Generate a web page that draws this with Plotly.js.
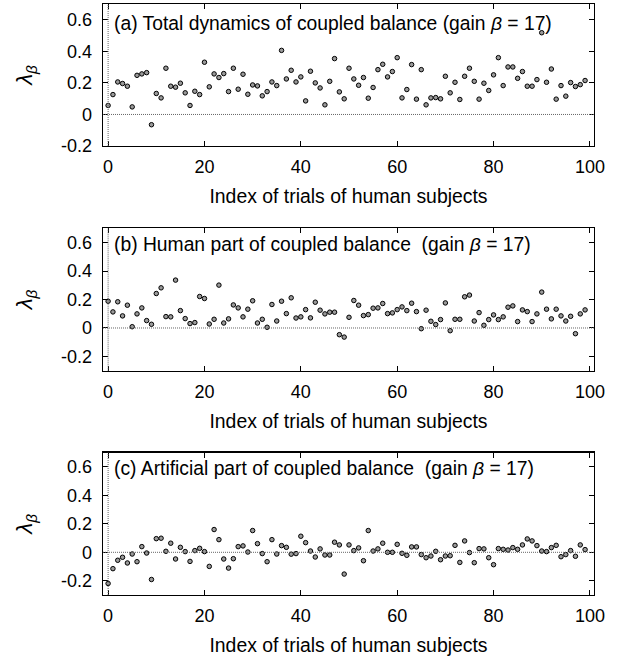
<!DOCTYPE html>
<html><head><meta charset="utf-8">
<script src="https://cdn.plot.ly/plotly-3.0.1.min.js"></script>
<style>html,body{margin:0;padding:0;background:#fff}</style>
</head><body><div id="chart" style="width:620px;height:662px"></div>
<script>
// trial index 0..99
const trialIndex = [0,1,2,3,4,5,6,7,8,9,10,11,12,13,14,15,16,17,18,19,20,21,22,23,24,25,26,27,28,29,30,31,32,33,34,35,36,37,38,39,40,41,42,43,44,45,46,47,48,49,50,51,52,53,54,55,56,57,58,59,60,61,62,63,64,65,66,67,68,69,70,71,72,73,74,75,76,77,78,79,80,81,82,83,84,85,86,87,88,89,90,91,92,93,94,95,96,97,98,99];

// (a) total dynamics
const totalDynamics = [0.057,0.126,0.206,0.196,0.179,0.048,0.248,0.257,0.265,-0.065,
0.133,0.105,0.293,0.179,0.173,0.198,0.137,0.057,0.147,0.126,
0.331,0.175,0.257,0.234,0.259,0.145,0.293,0.160,0.255,0.128,
0.187,0.181,0.118,0.145,0.206,0.183,0.406,0.225,0.280,0.206,
0.238,0.086,0.274,0.200,0.168,0.061,0.210,0.354,0.143,0.099,
0.293,0.225,0.185,0.234,0.103,0.171,0.284,0.318,0.238,0.272,
0.360,0.105,0.158,0.316,0.097,0.284,0.061,0.105,0.107,0.099,
0.242,0.137,0.204,0.095,0.242,0.293,0.210,0.097,0.198,0.152,
0.251,0.360,0.183,0.301,0.301,0.229,0.272,0.179,0.179,0.221,
0.518,0.204,0.288,0.097,0.183,0.116,0.202,0.177,0.189,0.215];

// (b) human part
const humanPart = [0.188,0.113,0.184,0.085,0.160,0.009,0.099,0.141,0.052,0.026,
0.242,0.282,0.080,0.078,0.336,0.122,0.066,0.031,0.038,0.221,
0.207,0.028,0.061,0.301,0.035,0.064,0.162,0.141,0.078,0.132,
0.191,0.035,0.061,0.005,0.165,0.049,0.188,0.101,0.212,0.070,
0.078,0.129,0.071,0.181,0.125,0.099,0.111,0.111,-0.047,-0.064,
0.075,0.193,0.160,0.087,0.094,0.139,0.141,0.172,0.101,0.106,
0.129,0.148,0.122,0.174,0.115,-0.005,0.125,0.047,0.024,0.059,
0.176,-0.019,0.061,0.061,0.219,0.231,0.049,0.108,0.019,0.059,
0.092,0.059,0.078,0.146,0.155,0.045,0.127,0.115,0.045,0.099,
0.252,0.132,0.064,0.132,0.085,0.049,0.082,-0.040,0.099,0.127];

// (c) artificial part
const artificialPart = [-0.219,-0.115,-0.056,-0.035,-0.075,-0.012,-0.066,0.040,-0.005,-0.191,
0.096,0.099,0.007,0.064,-0.047,0.035,0.005,-0.064,0.012,0.028,
0.005,-0.099,0.160,0.089,-0.047,-0.111,-0.045,0.040,0.045,0.002,
0.153,0.061,-0.009,-0.066,0.089,-0.012,0.047,0.035,-0.013,-0.009,
0.113,0.068,0.009,-0.033,0.024,-0.019,-0.019,0.071,0.052,-0.153,
0.052,0.012,0.031,-0.059,0.153,0.009,0.024,0.064,0.000,0.000,
0.056,-0.007,-0.021,0.038,0.038,-0.016,-0.038,-0.026,0.007,-0.052,
-0.026,-0.024,0.049,-0.071,0.080,-0.002,-0.073,0.026,0.024,-0.038,
-0.087,0.026,0.021,0.016,0.033,0.021,0.052,0.094,0.080,0.047,
0.009,0.005,0.033,0.049,-0.031,-0.016,0.012,-0.028,0.052,0.019];

const panelTitles = [
  '(a) Total dynamics of coupled balance (gain <i>β</i> = 17)',
  '(b) Human part of coupled balance \u00A0(gain <i>β</i> = 17)',
  '(c) Artificial part of coupled balance \u00A0(gain <i>β</i> = 17)'
];
const xTickVals = [0,20,40,60,80,100];
const yTickVals = [-0.2,0,0.2,0.4,0.6];
const xTitle = 'Index of trials of human subjects';
const yTitle = '<i>λ</i><sub><i>β</i></sub>';

const series = [totalDynamics, humanPart, artificialPart];
const yRanges = [[-0.2,0.7],[-0.3,0.7],[-0.3,0.7]];
const domains = [[0.7597,1],[0.3795,0.6205],[0,0.2408]];
const FONT = 'Liberation Sans, Arial, Helvetica, sans-serif';

const data = series.map((vals,k)=>({
  x: trialIndex, y: vals, type:'scatter', mode:'markers',
  xaxis: k===0?'x':'x'+(k+1), yaxis: k===0?'y':'y'+(k+1),
  marker:{symbol:'circle', size:4.5, color:'#9a9a9a', line:{color:'#000', width:1}},
  hoverinfo:'skip', showlegend:false, cliponaxis:false
}));

const layout = {
  width:620, height:662,
  margin:{l:103, r:26, t:4, b:67},
  paper_bgcolor:'#fff', plot_bgcolor:'#fff',
  font:{family:FONT, size:18, color:'#000'},
  showlegend:false,
  shapes:[], annotations:[]
};

for (let k=0;k<3;k++){
  const xs = k===0?'':String(k+1);
  const xa = 'xaxis'+xs, ya = 'yaxis'+xs;
  layout[xa] = {
    domain:[0,1], anchor:'y'+xs, range:[-1.06,100.85],
    tickvals:xTickVals, ticktext:xTickVals.map(String),
    ticks:'inside', ticklen:5, tickwidth:1, tickcolor:'#000',
    showline:true, linecolor:'#000', linewidth:1.3, mirror:'ticks',
    showgrid:false, zeroline:false,
    tickfont:{family:FONT, size:18}, ticklabelstandoff:4,
    title:{text:xTitle, font:{family:FONT, size:19.4}, standoff:13},
    automargin:false
  };
  layout[ya] = {
    domain:domains[k], anchor:'x'+xs, range:yRanges[k],
    tickvals:yTickVals, ticktext:yTickVals.map(v=>v===0?'0':v.toFixed(1)),
    ticks:'inside', ticklen:5, tickwidth:1, tickcolor:'#000',
    showline:true, linecolor:'#000', linewidth:1.3, mirror:'ticks',
    showgrid:false, zeroline:false,
    tickfont:{family:FONT, size:18}, ticklabelstandoff:6,
    title:{text:yTitle, font:{family:FONT, size:22}, standoff:22},
    automargin:false
  };
  // dotted zero lines
  layout.shapes.push({type:'line', xref:'x'+xs, yref:'y'+xs+' domain', x0:0, x1:0, y0:0, y1:1,
    line:{color:'#666', width:1, dash:'1px,1px'}});
  layout.shapes.push({type:'line', xref:'x'+xs+' domain', yref:'y'+xs, x0:0, x1:1, y0:0, y1:0,
    line:{color:'#666', width:1, dash:'1px,1px'}});
  layout.annotations.push({
    text:panelTitles[k], xref:'x'+xs+' domain', yref:'y'+xs+' domain',
    x:0, y:1, xanchor:'left', yanchor:'middle', xshift:9, yshift:k===0?-19:-16,
    showarrow:false, font:{family:FONT, size:19.3, color:'#000'}
  });
}

Plotly.newPlot('chart', data, layout, {staticPlot:true, displayModeBar:false});
</script></body></html>
